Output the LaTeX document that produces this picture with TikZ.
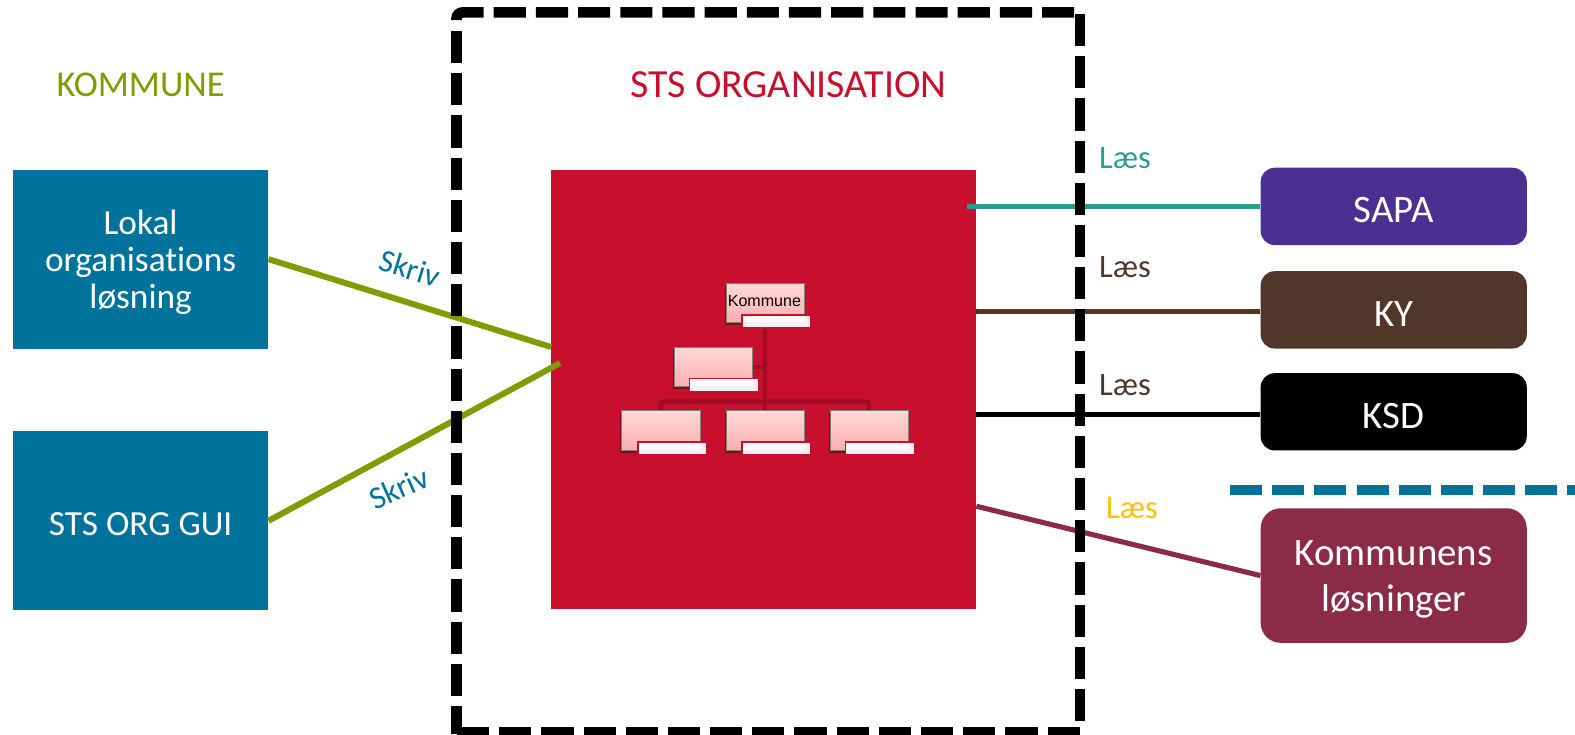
\documentclass[tikz,border=0pt]{standalone}
\usepackage{fontspec}
\setmainfont[Ligatures=NoCommon]{Carlito}
\usepackage[HTML]{xcolor}
\usetikzlibrary{positioning, shadows}

\definecolor{stsblue}{HTML}{00739C}
\definecolor{stsgreen}{HTML}{7F9C00}
\definecolor{stsred}{HTML}{C8102E}
\definecolor{stsdark}{HTML}{A50A25}
\definecolor{sapacol}{HTML}{4A3090}
\definecolor{sapaline}{HTML}{2A9D8F}
\definecolor{kycol}{HTML}{50372A}
\definecolor{kommcol}{HTML}{8C2B48}
\definecolor{laesyellow}{HTML}{FFC000}

\newcommand{\lowtext}{\rule{0pt}{0.85em}}

\tikzset{
  srcbox/.style={fill=stsblue, text=white, inner sep=0pt, minimum width=5.08cm, minimum height=3.56cm, align=center, font=\fontsize{20}{21}\selectfont},
  sysbox/.style={rounded corners=0.28cm, text=white, inner sep=0pt, minimum width=5.3cm, minimum height=1.54cm, align=center, font=\fontsize{22}{26}\selectfont},
  orgbox/.style={draw=black!50, line width=0.5pt, top color=red!15, bottom color=red!32, inner sep=0pt, minimum width=1.56cm, minimum height=0.78cm, drop shadow={shadow xshift=-0.03cm, shadow yshift=-0.05cm, opacity=0.35, fill=black}},
  orgtag/.style={draw=stsred, line width=0.8pt, fill=white, fill opacity=0.93, inner sep=0pt, minimum width=1.38cm, minimum height=0.26cm},
  link/.style={line width=2.9pt},
  frameline/.style={black, line width=6pt, dash pattern=on 0.64cm off 0.2cm},
  orgline/.style={stsdark, line width=2.6pt},
  skriv/.style={text=stsblue, font=\fontsize{18}{18}\selectfont},
  laes/.style={font=\fontsize{18.5}{18.5}\selectfont}
}

\begin{document}
\begin{tikzpicture}[x=0.02cm, y=-0.02cm]
\useasboundingbox (0,0) rectangle (1568,731.7);
% headings
\node[text=stsgreen, font=\fontsize{20.6}{20.6}\selectfont] (kommune) at (140,84) {KOMMUNE};
\node[text=stsred, font=\fontsize{22.6}{22.6}\selectfont] (stsorg) at (785,84) {STS ORGANISATION};
% red block
\node[fill=stsred, inner sep=0pt, minimum width=8.46cm, minimum height=8.74cm] (store) at (760.2,387.5) {};
% left boxes
\node[srcbox] (lokal) at (140,258) {\lowtext Lokal\\organisations\\løsning};
\node[srcbox] (gui) at (140,518.5) {\lowtext STS ORG GUI};
% right boxes
\node[sysbox, fill=sapacol] (sapa) at (1387.5,205.5) {\lowtext SAPA};
\node[sysbox, fill=kycol] (ky) at (1387.5,308.5) {\lowtext KY};
\node[sysbox, fill=black] (ksd) at (1387.5,410) {\lowtext KSD};
\node[sysbox, fill=kommcol, rounded corners=0.4cm, minimum height=2.68cm] (losn) at (1387.5,573) {\lowtext Kommunens\\løsninger};
% line ends on the red block
\coordinate (inA) at (548.7,345.5);
\coordinate (inB) at (557.5,361.5);
\coordinate (outA) at (963,205.5);
\coordinate (outB) at (972,310);
\coordinate (outC) at (972,413);
\coordinate (outD) at (972,504);
% connectors
\draw[link, stsgreen, line width=3.4pt] (lokal.east) -- (inA);
\draw[link, stsgreen, line width=3.4pt] (gui.east) -- (inB);
\draw[link, sapaline] (outA) -- (sapa.west);
\draw[link, kycol] (outB) -- (ky.west |- outB);
\draw[link, black] (outC) -- (ksd.west |- outC);
\draw[link, kommcol] (outD) -- (losn.west);
% dashed frame, side by side
\draw[frameline, rounded corners=0.12cm] (454.5,20) -- (454.5,12.4) -- (1071,12.4);
\draw[frameline] (1075,14) -- (1075,720);
\draw[frameline] (455,729) -- (1075,729);
\draw[frameline] (454.5,31) -- (454.5,731);
% separator
\draw[stsblue, line width=6pt, dash pattern=on 0.64cm off 0.2cm] (1224.5,488) -- (1568,488);
% org chart lines
\draw[orgline] (761.5,321.5) -- (761.5,409);
\draw[orgline] (748.5,365.5) -- (761.5,365.5);
\draw[orgline, rounded corners=0.04cm] (658,409) -- (658,400) -- (865,400) -- (865,409);
% org chart boxes
\node[orgbox] (top) at (762,302) {};
\node[font=\fontsize{9.1}{9.1}\selectfont\fontspec{Liberation Sans}, text=black] (toptext) at (761,300) {Kommune};
\node[orgbox] (mid) at (710,365.5) {};
\node[orgbox] (lowA) at (658,428.5) {};
\node[orgbox] (lowB) at (762,428.5) {};
\node[orgbox] (lowC) at (865.5,428.5) {};
% org chart tags
\node[orgtag] (tagtop) at (773,320) {};
\node[orgtag] (tagmid) at (721,383.5) {};
\foreach \nm/\xx in {tagA/669.5, tagB/773, tagC/876.5}
  \node[orgtag] (\nm) at (\xx,446.5) {};
% labels
\node[skriv, rotate=-17] (skrivA) at (408,267) {Skriv};
\node[skriv, rotate=24] (skrivB) at (397,486) {Skriv};
\node[laes, text=sapaline] (laesA) at (1120,157) {Læs};
\node[laes, text=kycol] (laesB) at (1120,266) {Læs};
\node[laes, text=kycol] (laesC) at (1120,383) {Læs};
\node[laes, text=laesyellow] (laesD) at (1127,506) {Læs};
\end{tikzpicture}
\end{document}
